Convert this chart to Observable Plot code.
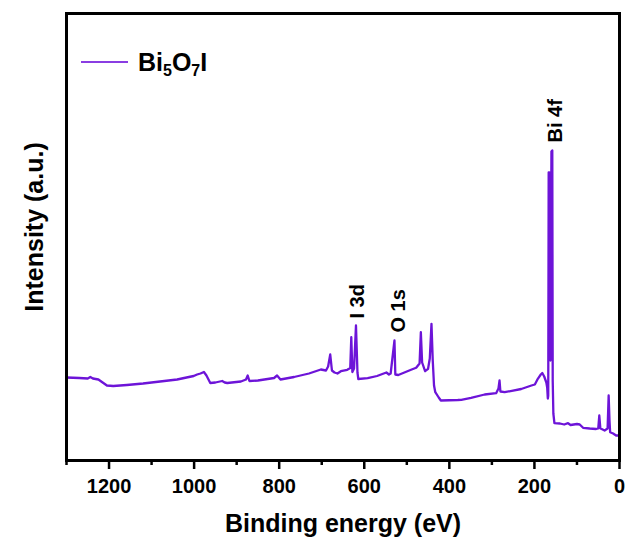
<!DOCTYPE html>
<html>
<head>
<meta charset="utf-8">
<script src="https://cdn.jsdelivr.net/npm/d3@7"></script>
<script src="https://cdn.jsdelivr.net/npm/@observablehq/plot@0.6"></script>
<style>
  html, body { margin: 0; padding: 0; background: white; }
  #wrap { position: relative; width: 626px; height: 538px; }
  #legend { position: absolute; left: 0; top: 0; pointer-events: none; }
</style>
</head>
<body>
<div id="wrap">
  <div id="chart"></div>
  <svg id="legend" width="626" height="100" font-family="Liberation Sans, Arial, sans-serif">
    <line x1="81" x2="128" y1="62" y2="62" stroke="#8a3de2" stroke-width="2"></line>
    <text x="138" y="71" font-size="25" font-weight="bold" fill="black">Bi<tspan font-size="16" dy="5">5</tspan><tspan dy="-5">O</tspan><tspan font-size="16" dy="5">7</tspan><tspan dy="-5">I</tspan></text>
  </svg>
</div>
<script>
// Binding energy (eV) and intensity (a.u.)
const energy = [1300,1270,1250,1244,1238,1225,1215,1205,1190,1158,1120,1080,1040,1001,993,985,977,971,962,950,934,928,922,890,878,874,870,850,812,805,797,765,730,702,690,685,680,676,670,663,655,640,633,630.5,628,624,619.5,616,614,592,570,548,542,538,529,527,520,490,478,470,467,464,457,450,446,442,439,436,433,425,420,380,372,349,317,290,284.5,282,280,270,231,207,199,192,185,181.5,177,172,170,168.5,167.5,166.5,165,164,162.5,161,160,158,157,155.5,153,140,130,121,115,100,93.5,85.6,70,55,50,47.5,45,42,35,28,25.5,23.5,22,15,8,3,0];
const intensity = [83,82.5,82,83.5,82,81,78,75,74.5,75.5,77,79,81,84.5,86,87,88.5,85,77.5,78,79.5,78,77.5,79,81,85,79.5,80,82.5,85,81,83.5,87,91,90,94,106,90,88,87,89.3,90.7,92.5,123.3,88.5,92,135,88,81.5,82.3,84.5,88,86,87,120,86,85.5,90.7,92.7,97,128.3,98,89.3,91.7,102,136.7,100,75,68.3,63,60,60.5,60.7,62.7,66,67.3,72,80,69,68.3,71.5,75,76,81.7,86,87.5,84,78,73,62,65,288,288,130,100,210,309,310,80,47,37.3,37,36,37.3,35.5,36.5,36,32.7,32,31.5,32,45,32,31.5,30,32,65,40,28.3,27,25,25,24];

const majorTicks = [0,200,400,600,800,1000,1200];
const minorTicks = [100,300,500,700,900,1100,1300];

const peakLabels = ["I 3d","O 1s","Bi 4f"];
const peakLabelEnergy = [615,519,151];
const peakLabelIntensity = [142,128,318];

const spectrum = energy.map((e,i) => ({e, v: intensity[i]}));
const labels = peakLabels.map((t,i) => ({t, e: peakLabelEnergy[i], v: peakLabelIntensity[i]}));

const chart = Plot.plot({
  width: 626,
  height: 538,
  marginLeft: 66,
  marginRight: 7,
  marginTop: 13,
  marginBottom: 78,
  style: {fontFamily: "Liberation Sans, Arial, sans-serif", fontWeight: "bold", background: "white", color: "black"},
  x: {domain: [1300, 0]},
  y: {domain: [0, 447], axis: null},
  marks: [
    Plot.line(spectrum, {x: "e", y: "v", stroke: "#6d14d8", strokeWidth: 2.3}),
    Plot.frame({stroke: "black", strokeWidth: 3}),
    Plot.axisX({ticks: majorTicks, tickSize: 9, tickPadding: 9, tickFormat: d => String(d), fontSize: 20, strokeWidth: 2.5, label: null}),
    Plot.axisX({ticks: minorTicks, tickSize: 5, tickFormat: () => "", strokeWidth: 2.5, label: null}),
    Plot.text(labels, {x: "e", y: "v", text: "t", rotate: -90, textAnchor: "start", fontSize: 20, fill: "black"}),
    Plot.text(["Binding energy (eV)"], {frameAnchor: "bottom", dy: 71, lineAnchor: "bottom", fontSize: 25, fill: "black"}),
    Plot.text(["Intensity (a.u.)"], {frameAnchor: "left", textAnchor: "middle", rotate: -90, dx: -32, dy: -10, fontSize: 25, fill: "black"})
  ]
});
document.getElementById("chart").appendChild(chart);
</script>
</body>
</html>
